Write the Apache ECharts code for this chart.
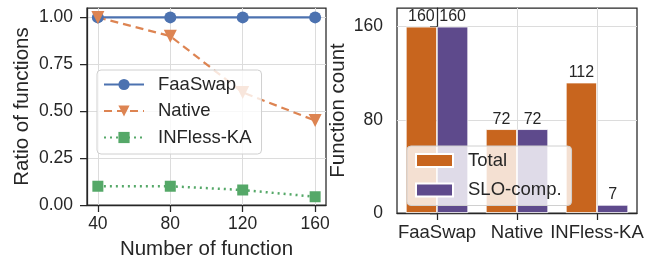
<!DOCTYPE html>
<html><head><meta charset="utf-8">
<script src="https://cdn.jsdelivr.net/npm/echarts@6/dist/echarts.min.js"></script>
<style>html,body{margin:0;padding:0;background:#fff}#c{width:647px;height:265px}</style>
</head><body><div id="c"></div>
<script>
const xValues = [40, 80, 120, 160];
const faaswap = [1.0, 1.0, 1.0, 1.0];
const native = [1.0, 0.9, 0.6, 0.45];
const inflessKA = [0.1, 0.1, 0.08, 0.044];
const leftYTicks = [0, 0.25, 0.5, 0.75, 1.0];
const systems = ['FaaSwap', 'Native', 'INFless-KA'];
const totalCount = [160, 72, 112];
const sloCount = [160, 72, 7];
const rightYTicks = [0, 80, 160];

const FONT = "'Liberation Sans', Arial, sans-serif";
const TXT = '#262626';
const GRIDC = '#dcdcdc';
const pair = (xs, ys) => xs.map((x, i) => [x, ys[i]]);

const chart = echarts.init(document.getElementById('c'), null, {renderer: 'canvas'});
const axisLineStyle = {show: true, lineStyle: {color: TXT, width: 1.25}};
const tickStyle = {show: true, length: 7, lineStyle: {color: TXT, width: 1.25}};
chart.setOption({
  animation: false,
  textStyle: {fontFamily: FONT, color: TXT},
  grid: [
    {left: 87, right: 321, top: 8, bottom: 52, show: true, borderColor: TXT, borderWidth: 1.25, backgroundColor: '#fff'},
    {left: 397, right: 10, top: 8, bottom: 52, show: true, borderColor: TXT, borderWidth: 1.25, backgroundColor: '#fff'}
  ],
  xAxis: [
    {type: 'value', gridIndex: 0, min: 34, max: 166,
     name: 'Number of function', nameLocation: 'middle', nameGap: 34,
     nameTextStyle: {fontSize: 20.5, color: TXT, fontFamily: FONT},
     axisLine: axisLineStyle,
     axisTick: Object.assign({customValues: xValues}, tickStyle),
     axisLabel: {customValues: xValues, fontSize: 17.5, color: TXT, margin: 10, fontFamily: FONT},
     splitLine: {show: true, lineStyle: {color: GRIDC, width: 1}}},
    {type: 'category', gridIndex: 1, data: systems,
     axisLine: axisLineStyle,
     axisTick: Object.assign({alignWithLabel: true}, tickStyle),
     axisLabel: {interval: 0, hideOverlap: false, fontSize: 18.5, color: TXT, margin: 10, fontFamily: FONT},
     splitLine: {show: false}},
    {type: 'value', gridIndex: 1, min: -0.5, max: 2.5, position: 'bottom',
     axisLine: {show: false}, axisTick: {show: false, customValues: [0, 1, 2]},
     axisLabel: {show: false, customValues: [0, 1, 2]},
     splitLine: {show: true, lineStyle: {color: GRIDC, width: 1}}}
  ],
  yAxis: [
    {type: 'value', gridIndex: 0, min: 0, max: 1.05,
     name: 'Ratio of functions', nameLocation: 'middle', nameGap: 54,
     nameTextStyle: {fontSize: 20.5, color: TXT, fontFamily: FONT},
     axisLine: axisLineStyle,
     axisTick: Object.assign({customValues: leftYTicks}, tickStyle),
     axisLabel: {customValues: leftYTicks, fontSize: 17.5, color: TXT, margin: 14, fontFamily: FONT,
                 formatter: v => Number(v).toFixed(2)},
     splitLine: {show: true, lineStyle: {color: GRIDC, width: 1}}},
    {type: 'value', gridIndex: 1, min: 0, max: 176,
     name: 'Function count', nameLocation: 'middle', nameGap: 48,
     nameTextStyle: {fontSize: 20.5, color: TXT, fontFamily: FONT},
     axisLine: axisLineStyle,
     axisTick: Object.assign({customValues: rightYTicks}, tickStyle),
     axisLabel: {customValues: rightYTicks, fontSize: 17.5, color: TXT, margin: 14, fontFamily: FONT},
     splitLine: {show: true, lineStyle: {color: GRIDC, width: 1}}}
  ],
  legend: [
    {orient: 'vertical', left: 97, top: 70, data: ['FaaSwap', 'Native', 'INFless-KA'],
     itemWidth: 40, itemHeight: 14, itemGap: 7.5, padding: [5, 10, 7, 6],
     backgroundColor: 'rgba(255,255,255,0.8)', borderColor: '#d0d0d0', borderWidth: 1, borderRadius: 4,
     textStyle: {fontSize: 18.5, color: TXT, fontFamily: FONT, lineHeight: 18, padding: [0, 0, 0, 9]}},
    {orient: 'vertical', left: 407, top: 146, data: ['Total', 'SLO-comp.'], icon: 'rect',
     itemWidth: 37, itemHeight: 13, itemGap: 10.5, padding: [5, 10, 6, 8],
     backgroundColor: 'rgba(255,255,255,0.8)', borderColor: '#d0d0d0', borderWidth: 1, borderRadius: 4,
     textStyle: {fontSize: 18.5, color: TXT, fontFamily: FONT, lineHeight: 18, padding: [0, 0, 0, 10]}}
  ],
  series: [
    {name: 'FaaSwap', type: 'line', xAxisIndex: 0, yAxisIndex: 0, data: pair(xValues, faaswap),
     symbol: 'circle', symbolSize: 12, color: '#4c72b0',
     lineStyle: {width: 2.2, type: 'solid'}, itemStyle: {color: '#4c72b0'}},
    {name: 'Native', type: 'line', xAxisIndex: 0, yAxisIndex: 0, data: pair(xValues, native),
     symbol: 'triangle', symbolRotate: 180, symbolSize: 13, color: '#dd8452',
     lineStyle: {width: 2.2, type: [8, 5]}, itemStyle: {color: '#dd8452'}},
    {name: 'INFless-KA', type: 'line', xAxisIndex: 0, yAxisIndex: 0, data: pair(xValues, inflessKA),
     symbol: 'rect', symbolSize: 11, color: '#55a868',
     lineStyle: {width: 2.5, type: [2, 4]}, itemStyle: {color: '#55a868'}},
    {name: 'Total', type: 'bar', xAxisIndex: 1, yAxisIndex: 1, data: totalCount,
     barWidth: '39%', barGap: '0%', color: '#c8651e',
     itemStyle: {color: '#c8651e', borderColor: '#fff', borderWidth: 0.8},
     label: {show: true, position: 'top', distance: 2, fontSize: 16, color: TXT, fontFamily: FONT}},
    {name: 'SLO-comp.', type: 'bar', xAxisIndex: 1, yAxisIndex: 1, data: sloCount,
     barWidth: '39%', barGap: '0%', color: '#5e4a8c',
     itemStyle: {color: '#5e4a8c', borderColor: '#fff', borderWidth: 0.8},
     label: {show: true, position: 'top', distance: 2, fontSize: 16, color: TXT, fontFamily: FONT}}
  ]
});
</script></body></html>
